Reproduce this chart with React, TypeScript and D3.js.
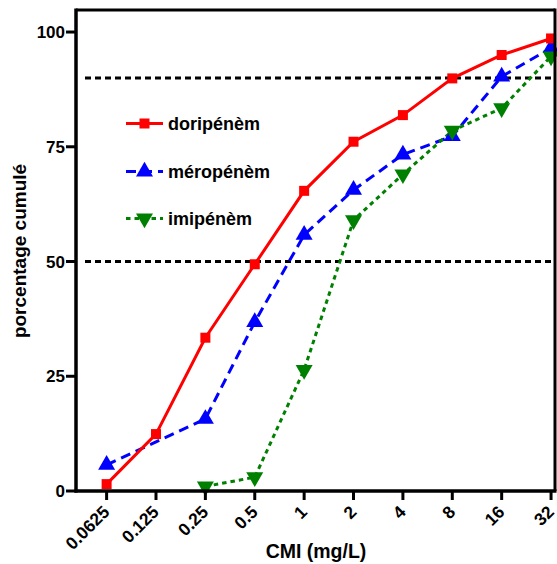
import React from "react";
import * as d3 from "d3";

const categories = ["0.0625", "0.125", "0.25", "0.5", "1", "2", "4", "8", "16", "32"];
const doripenem: (number | null)[] = [1.5, 12.4, 33.4, 49.4, 65.4, 76.1, 81.9, 89.9, 95.0, 98.6];
const meropenem: (number | null)[] = [5.7, null, 15.7, 36.8, 55.8, 65.6, 73.3, 77.3, 90.3, 96.5];
const imipenem: (number | null)[] = [null, null, 1.0, 3.0, 26.4, 59.0, 69.0, 78.5, 83.4, 94.7];
const yTicks = [0, 25, 50, 75, 100];
const refLines = [50, 90];
const seriesNames = ["doripénèm", "méropénèm", "imipénèm"];

const W = 557;
const H = 564;
const left = 76;
const right = 555;
const top = 10;
const bottom = 491;

export default function App() {
  const x = d3.scaleLinear().domain([-0.62, 9.08]).range([left, right]);
  const y = d3.scaleLinear().domain([0, 104.8]).range([bottom, top]);
  const font = "'Liberation Sans', Arial, sans-serif";

  const series = [
    { name: seriesNames[1], data: meropenem, color: "#0000ff", dash: "10,6", symbol: d3.symbolTriangle, rot: 0 },
    { name: seriesNames[2], data: imipenem, color: "#008000", dash: "4.5,4", symbol: d3.symbolTriangle, rot: 180 },
    { name: seriesNames[0], data: doripenem, color: "#ff0000", dash: "", symbol: d3.symbolSquare, rot: 0 },
  ];
  const legendOrder = [series[2], series[0], series[1]];
  const legendY = [123.5, 171.5, 218.5];

  const lineGen = d3
    .line<[number, number]>()
    .x((d) => x(d[0]))
    .y((d) => y(d[1]));

  const pts = (data: (number | null)[]) =>
    data
      .map((v, i) => (v == null ? null : ([i, v] as [number, number])))
      .filter((d): d is [number, number] => d !== null);

  const symSize = (s: d3.SymbolType) => (s === d3.symbolSquare ? 100 : 125);

  return (
    <svg
      width={W}
      height={H}
      style={{ position: "absolute", left: 0, top: 0, background: "#fff" }}
      fontFamily={font}
      fontWeight="bold"
    >
      <rect x={0} y={0} width={W} height={H} fill="#fff" />
      {refLines.map((v) => (
        <line
          key={v}
          x1={85}
          x2={right}
          y1={y(v)}
          y2={y(v)}
          stroke="#000"
          strokeWidth={3}
          strokeDasharray="6,4"
        />
      ))}
      {series.map((s) => (
        <path
          key={s.name + "l"}
          d={lineGen(pts(s.data)) || ""}
          fill="none"
          stroke={s.color}
          strokeWidth={3}
          strokeDasharray={s.dash || undefined}
        />
      ))}
      {series.map((s) =>
        pts(s.data).map((p, i) => (
          <path
            key={s.name + i}
            d={d3.symbol().type(s.symbol).size(symSize(s.symbol))() || ""}
            transform={`translate(${x(p[0])},${y(p[1])}) rotate(${s.rot})`}
            fill={s.color}
          />
        ))
      )}
      <line x1={left} x2={right} y1={top} y2={top} stroke="#000" strokeWidth={3} />
      <line x1={right} x2={right} y1={top - 1.5} y2={bottom} stroke="#000" strokeWidth={3} />
      <line x1={left} x2={left} y1={top - 1.5} y2={bottom + 1.5} stroke="#000" strokeWidth={3.5} />
      <line x1={left - 1.5} x2={right + 1.5} y1={bottom} y2={bottom} stroke="#000" strokeWidth={3.5} />
      {yTicks.map((t) => (
        <g key={t}>
          <line x1={left - 10} x2={left} y1={y(t)} y2={y(t)} stroke="#000" strokeWidth={3} />
          <text x={left - 11} y={y(t)} dy="0.36em" textAnchor="end" fontSize={17}>
            {t}
          </text>
        </g>
      ))}
      {categories.map((c, i) => (
        <g key={c}>
          <line x1={x(i)} x2={x(i)} y1={bottom} y2={bottom + 9} stroke="#000" strokeWidth={3} />
          <text
            transform={`translate(${x(i) + 4},${bottom + 22}) rotate(-45)`}
            textAnchor="end"
            fontSize={17.5}
          >
            {c}
          </text>
        </g>
      ))}
      <text x={316} y={558} textAnchor="middle" fontSize={19.5}>
        CMI (mg/L)
      </text>
      <text transform="translate(25.5,251) rotate(-90)" textAnchor="middle" fontSize={19}>
        porcentage cumulé
      </text>
      {legendOrder.map((s, i) => (
        <g key={s.name + "lg"}>
          <line
            x1={126}
            x2={163}
            y1={legendY[i]}
            y2={legendY[i]}
            stroke={s.color}
            strokeWidth={3}
            strokeDasharray={s.dash || undefined}
          />
          <path
            d={d3.symbol().type(s.symbol).size(symSize(s.symbol))() || ""}
            transform={`translate(144.5,${legendY[i]}) rotate(${s.rot})`}
            fill={s.color}
          />
          <text x={168} y={legendY[i] + 6.5} fontSize={18}>
            {s.name}
          </text>
        </g>
      ))}
    </svg>
  );
}
